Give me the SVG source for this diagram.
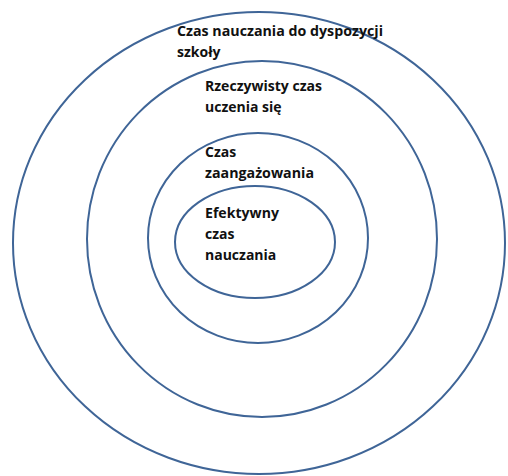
<svg xmlns="http://www.w3.org/2000/svg" width="508" height="476" viewBox="0 0 508 476">
<style>
.ring{fill:none;stroke:#3f6597;stroke-width:2}
.lbl{font-family:"Open Sans","Liberation Sans",sans-serif;font-weight:bold;font-size:14px;fill:#111}
</style>
<rect width="508" height="476" fill="#fff"/>
<g id="outer">
<ellipse class="ring" cx="259" cy="243" rx="246" ry="231"/>
<text class="lbl" x="177" y="36" textLength="206" lengthAdjust="spacingAndGlyphs">Czas nauczania do dyspozycji</text>
<text class="lbl" x="177" y="57">szkoły</text>
</g>
<g id="real">
<ellipse class="ring" cx="262" cy="239" rx="175" ry="178"/>
<text class="lbl" x="205" y="91" textLength="117" lengthAdjust="spacingAndGlyphs">Rzeczywisty czas</text>
<text class="lbl" x="205" y="112">uczenia się</text>
</g>
<g id="engaged">
<ellipse class="ring" cx="258" cy="238" rx="110" ry="105"/>
<text class="lbl" x="205" y="157">Czas</text>
<text class="lbl" x="205" y="178" textLength="109" lengthAdjust="spacingAndGlyphs">zaangażowania</text>
</g>
<g id="effective">
<ellipse class="ring" cx="255" cy="242" rx="80" ry="56"/>
<text class="lbl" x="205" y="218" textLength="74" lengthAdjust="spacingAndGlyphs">Efektywny</text>
<text class="lbl" x="205" y="239">czas</text>
<text class="lbl" x="205" y="260">nauczania</text>
</g>
<g id="connectors"/>
</svg>
